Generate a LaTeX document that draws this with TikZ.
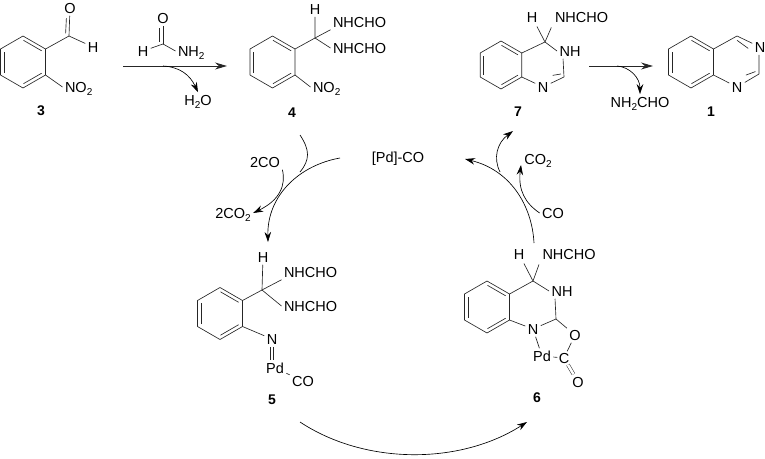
\documentclass[tikz,border=0pt]{standalone}
\usepackage{fontspec}
\usepackage{tikz}
\usetikzlibrary{arrows.meta, calc}
\setmainfont{Liberation Sans}

\newcommand{\subn}[1]{\raisebox{-3.5pt}{\fontsize{10}{10}\selectfont #1}}
% inner line of a double bond, on the right hand of a -> b
\newcommand{\dblbond}[2]{\draw[bond, shorten <=2.5pt, shorten >=2.5pt] ($(#1)!3.5pt!-90:(#2)$) -- ($(#2)!3.5pt!90:(#1)$);}

\tikzset{
  bond/.style={line width=0.65pt, draw=black!85},
  atom/.style={inner sep=1pt, outer sep=1.5pt, text height=10.5pt, text depth=0pt, font=\fontsize{14.5}{17}\selectfont},
  cmpd/.style={inner sep=1pt, font=\fontsize{14}{17}\selectfont\bfseries},
  rxn/.style={line width=1pt, draw=black!85, -{Stealth[length=12pt, width=7pt]}},
  curvearr/.style={line width=0.65pt, -{Stealth[length=10pt, width=6.5pt]}},
  arcline/.style={line width=0.65pt}
}

\begin{document}
\begin{tikzpicture}[x=1pt, y=-1pt]

  \useasboundingbox (0,0) rectangle (765,458);

  % Benzene rings
  \foreach \nm/\cx/\cy/\rr in {rc/23/62/26, rd/272.5/62/26, rg/501/65/24, ra/691/62/26, re/220/313.5/26, rf/487/307/26} {
    \coordinate (\nm t)  at ($(\cx,\cy)+(-90:\rr)$);
    \coordinate (\nm ur) at ($(\cx,\cy)+(-30:\rr)$);
    \coordinate (\nm lr) at ($(\cx,\cy)+(30:\rr)$);
    \coordinate (\nm b)  at ($(\cx,\cy)+(90:\rr)$);
    \coordinate (\nm ll) at ($(\cx,\cy)+(150:\rr)$);
    \coordinate (\nm ul) at ($(\cx,\cy)+(210:\rr)$);
    \draw[bond] (\nm t) -- (\nm ur) -- (\nm lr) -- (\nm b) -- (\nm ll) -- (\nm ul) -- cycle;
    \dblbond{\nm t}{\nm ur}
    \dblbond{\nm lr}{\nm b}
    \dblbond{\nm ll}{\nm ul}
  }

  % Compound 3
  \coordinate (c3) at (69,36);
  \node[atom] (o3) at (70,8) {O};
  \node[atom] (h3) at (93,47) {H};
  \node[atom, anchor=west] (no3) at (62.5,87) {NO\subn{2}};
  \node[cmpd] (l3) at (41,111) {3};
  \draw[bond] (rcur) -- (c3) -- (h3);
  \draw[bond] (c3) -- (o3);
  \dblbond{o3.south}{c3}
  \draw[bond] (rclr) -- (no3.west);

  % Formamide over the first arrow
  \coordinate (cf) at (163,44);
  \node[atom] (of) at (163,18) {O};
  \node[atom] (hf) at (143,51) {H};
  \node[atom, anchor=west] (nf) at (175.5,51) {NH\subn{2}};
  \draw[bond] (cf) -- (of);
  \dblbond{of.south}{cf}
  \draw[bond] (cf) -- (hf);
  \draw[bond] (cf) -- (nf.west);

  % First arrow
  \coordinate (a1) at (123,66);
  \coordinate (a2) at (227,66);
  \coordinate (a3) at (163,66);
  \node[atom] (w1) at (198,100) {H\subn{2}O};
  \draw[rxn] (a1) -- (a2);
  \draw[curvearr] (a3) .. controls (180,67) and (190,75) .. (w1.north);

  % Compound 4
  \coordinate (c4) at (315,38);
  \node[atom] (h4) at (315,9) {H};
  \node[atom, anchor=west] (na4) at (330.5,22) {NHCHO};
  \node[atom, anchor=west] (nb4) at (330.5,48) {NHCHO};
  \node[atom, anchor=west] (no4) at (310.5,87) {NO\subn{2}};
  \node[cmpd] (l4) at (292,113) {4};
  \draw[bond] (rdur) -- (c4) -- (h4);
  \draw[bond] (c4) -- (na4.south west);
  \draw[bond] (c4) -- (nb4.west);
  \draw[bond] (rdlr) -- (no4.west);

  % Compound 7
  \coordinate (c7) at (545,42);
  \coordinate (d7) at (564,77);
  \node[atom] (h7) at (532,17) {H};
  \node[atom, anchor=west] (na7) at (552.5,17) {NHCHO};
  \node[atom] (nh7) at (570,51) {NH};
  \node[atom] (n7) at (543,87) {N};
  \node[cmpd] (l7) at (518,112) {7};
  \draw[bond] (rgur) -- (c7);
  \draw[bond, shorten >=2pt] (c7) -- (h7);
  \draw[bond, shorten >=3pt] (c7) -- (na7.south west);
  \draw[bond] (c7) -- (nh7.west);
  \draw[bond] (nh7.south west) ++(6,0) -- (d7);
  \draw[bond] (d7) -- (n7);
  \dblbond{d7}{n7.north east}
  \draw[bond] (rglr) -- (n7);

  % Second arrow
  \coordinate (a4) at (589,66);
  \coordinate (a5) at (653,66);
  \coordinate (a6) at (617,66);
  \node[atom] (w2) at (640,102) {NH\subn{2}CHO};
  \draw[rxn] (a4) -- (a5);
  \draw[curvearr] (a6) .. controls (630,67) and (640,78) .. (w2.north);

  % Compound 1
  \coordinate (c1) at (737,36);
  \coordinate (d1) at (759,74);
  \node[atom] (na1) at (760,47) {N};
  \node[atom] (nb1) at (737,87) {N};
  \node[cmpd] (l1) at (711,112) {1};
  \draw[bond] (raur) -- (c1) -- (na1);
  \dblbond{c1}{na1.west}
  \draw[bond] (na1.south -| d1) -- (d1) -- (nb1);
  \dblbond{d1}{nb1.north east}
  \draw[bond] (ralr) -- (nb1);

  % Left part of the cycle
  \node[atom] (pd) at (398,157) {[Pd]-CO};
  \node[atom] (tco) at (265,162) {2CO};
  \node[atom] (tcb) at (233,213) {2CO\subn{2}};
  \coordinate (b1) at (340,158);
  \coordinate (b2) at (268,242);
  \coordinate (b3) at (300,135);
  \coordinate (b4) at (300,172);
  \draw[curvearr] (b1) .. controls (300,165) and (267,195) .. (b2);
  \draw[arcline] (b3) .. controls (310,150) and (310,160) .. (b4);
  \draw[curvearr] (tco.south east) .. controls (286,185) and (280,200) .. (tcb.east);

  % Right part of the cycle
  \node[atom] (cb) at (538,159) {CO\subn{2}};
  \node[atom] (co) at (553,213) {CO};
  \coordinate (b5) at (534,243);
  \coordinate (b6) at (465,159);
  \coordinate (b7) at (500,172);
  \coordinate (b8) at (513,131);
  \coordinate (b9) at (521,165);
  \draw[curvearr] (b5) .. controls (532,205) and (510,170) .. (b6);
  \draw[curvearr] (b7) .. controls (493,158) and (497,143) .. (b8);
  \draw[curvearr] (co.west) .. controls (525,203) and (518,190) .. (b9);

  % Compound 5
  \coordinate (c5) at (262,290);
  \node[atom] (h5) at (263,257) {H};
  \node[atom, anchor=west] (na5) at (281.5,272) {NHCHO};
  \node[atom, anchor=west] (nb5) at (281.5,306) {NHCHO};
  \node[atom] (n5) at (272,339) {N};
  \node[atom] (pd5) at (275,368) {Pd};
  \node[atom] (co5) at (303,381) {CO};
  \node[cmpd] (l5) at (272,400) {5};
  \draw[bond] (reur) -- (c5) -- (h5);
  \draw[bond] (c5) -- (na5.south west);
  \draw[bond] (c5) -- (nb5.west);
  \draw[bond] (relr) -- (n5);
  \draw[bond, double, double distance=2.6pt, line width=0.5pt] (n5.south) -- (n5.south |- pd5.north);
  \draw[bond] (pd5) -- (co5);

  % Compound 6
  \coordinate (c6) at (533,281);
  \coordinate (d6) at (556,319);
  \node[atom] (h6) at (519,254) {H};
  \node[atom, anchor=west] (na6) at (540,254) {NHCHO};
  \node[atom] (nh6) at (562,291) {NH};
  \node[atom] (n6) at (533,329) {N};
  \node[atom] (oa6) at (575,335) {O};
  \node[atom] (pd6) at (542,356) {Pd};
  \node[atom, outer sep=0.5pt] (cc6) at (564,358) {C};
  \node[atom] (ob6) at (578,382) {O};
  \node[cmpd] (l6) at (537,398) {6};
  \draw[bond] (rfur) -- (c6);
  \draw[bond, shorten >=2pt] (c6) -- (h6);
  \draw[bond, shorten >=3pt] (c6) -- (na6.south west);
  \draw[bond] (c6) -- (nh6.west);
  \draw[bond] (nh6.south west) ++(6,0) -- (d6);
  \draw[bond] (d6) -- (n6);
  \draw[bond] (d6) -- (oa6);
  \draw[bond] (rflr) -- (n6);
  \draw[bond] (n6) -- (pd6);
  \draw[bond] (pd6) -- (cc6);
  \draw[bond] (oa6) -- (cc6);
  \draw[bond, double, double distance=2.6pt, line width=0.5pt] (cc6) -- (ob6);

  % Bottom arc of the cycle
  \coordinate (b10) at (300,422);
  \coordinate (b11) at (527,422);
  \draw[curvearr] (b10) .. controls (365,465) and (460,465) .. (b11);

\end{tikzpicture}
\end{document}
